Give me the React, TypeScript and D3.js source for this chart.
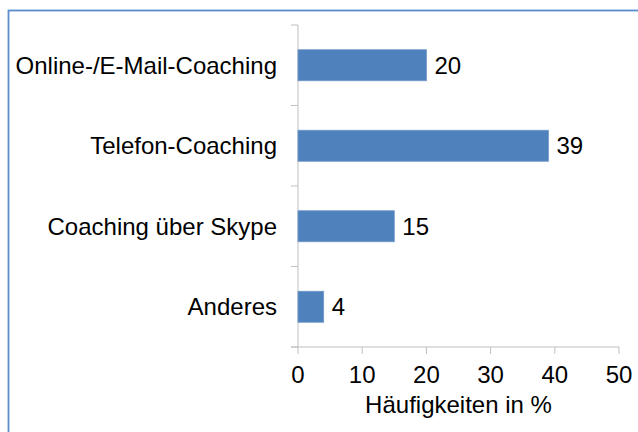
import React, { useEffect, useRef } from "react";
import * as d3 from "d3";

const width = 638,
  height = 432;

const categories = [
  "Online-/E-Mail-Coaching",
  "Telefon-Coaching",
  "Coaching über Skype",
  "Anderes",
];
const values = [20, 39, 15, 4];
const xTicks = [0, 10, 20, 30, 40, 50];
const xTitle = "Häufigkeiten in %";

const font = "'Liberation Sans', Arial, sans-serif";
const fontSize = 24;
const axisColor = "#bfbfbf";

export default function App() {
  const ref = useRef<SVGSVGElement>(null);

  useEffect(() => {
    const svg = d3.select(ref.current);
    svg.selectAll("*").remove();

    const x = d3.scaleLinear().domain([0, 50]).range([298, 619]);
    const y = d3
      .scaleBand<string>()
      .domain(categories)
      .range([25, 347])
      .paddingInner(0.615)
      .paddingOuter(0.3075);

    // chart border
    svg
      .append("rect")
      .attr("x", 8.5)
      .attr("y", 10.5)
      .attr("width", 700)
      .attr("height", 500)
      .attr("fill", "none")
      .attr("stroke", "#5b8ccc")
      .attr("stroke-width", 1.8);

    const step = y.step();
    const y0 = y.range()[0];
    const bounds = d3.range(categories.length + 1).map((i) => y0 + i * step);

    // y axis
    svg
      .append("line")
      .attr("x1", x(0))
      .attr("x2", x(0))
      .attr("y1", bounds[0])
      .attr("y2", bounds[bounds.length - 1])
      .attr("stroke", axisColor);
    svg
      .selectAll(".ytick")
      .data(bounds)
      .join("line")
      .attr("x1", x(0) - 7)
      .attr("x2", x(0))
      .attr("y1", (d) => d)
      .attr("y2", (d) => d)
      .attr("stroke", axisColor);

    // x axis
    const yBase = bounds[bounds.length - 1];
    svg
      .append("line")
      .attr("x1", x(0) - 7)
      .attr("x2", x(50))
      .attr("y1", yBase)
      .attr("y2", yBase)
      .attr("stroke", axisColor);
    svg
      .selectAll(".xtick")
      .data(xTicks)
      .join("line")
      .attr("x1", (d) => x(d))
      .attr("x2", (d) => x(d))
      .attr("y1", yBase)
      .attr("y2", yBase + 7)
      .attr("stroke", axisColor);
    svg
      .selectAll(".xlabel")
      .data(xTicks)
      .join("text")
      .attr("x", (d) => x(d))
      .attr("y", 383)
      .attr("text-anchor", "middle")
      .attr("font-family", font)
      .attr("font-size", fontSize)
      .attr("fill", "#000")
      .text((d) => d);
    svg
      .append("text")
      .attr("x", (x(0) + x(50)) / 2)
      .attr("y", 413)
      .attr("text-anchor", "middle")
      .attr("font-family", font)
      .attr("font-size", fontSize)
      .attr("fill", "#000")
      .text(xTitle);

    // bars
    svg
      .selectAll(".bar")
      .data(values)
      .join("rect")
      .attr("x", x(0))
      .attr("y", (_, i) => y(categories[i])!)
      .attr("width", (d) => x(d) - x(0))
      .attr("height", y.bandwidth())
      .attr("fill", "#4f81bd")
      .attr("stroke", "#6f97c9")
      .attr("stroke-width", 0.8);

    // value labels
    svg
      .selectAll(".val")
      .data(values)
      .join("text")
      .attr("x", (d) => x(d) + 8)
      .attr("y", (_, i) => y(categories[i])! + y.bandwidth() / 2 + 8.5)
      .attr("font-family", font)
      .attr("font-size", fontSize)
      .attr("fill", "#000")
      .text((d) => d);

    // category labels
    svg
      .selectAll(".cat")
      .data(categories)
      .join("text")
      .attr("x", 277)
      .attr("y", (d) => y(d)! + y.bandwidth() / 2 + 8.5)
      .attr("text-anchor", "end")
      .attr("font-family", font)
      .attr("font-size", fontSize)
      .attr("fill", "#000")
      .text((d) => d);
  }, []);

  return (
    <svg
      ref={ref}
      width={width}
      height={height}
      style={{ position: "absolute", left: 0, top: 0, background: "#fff" }}
    />
  );
}
